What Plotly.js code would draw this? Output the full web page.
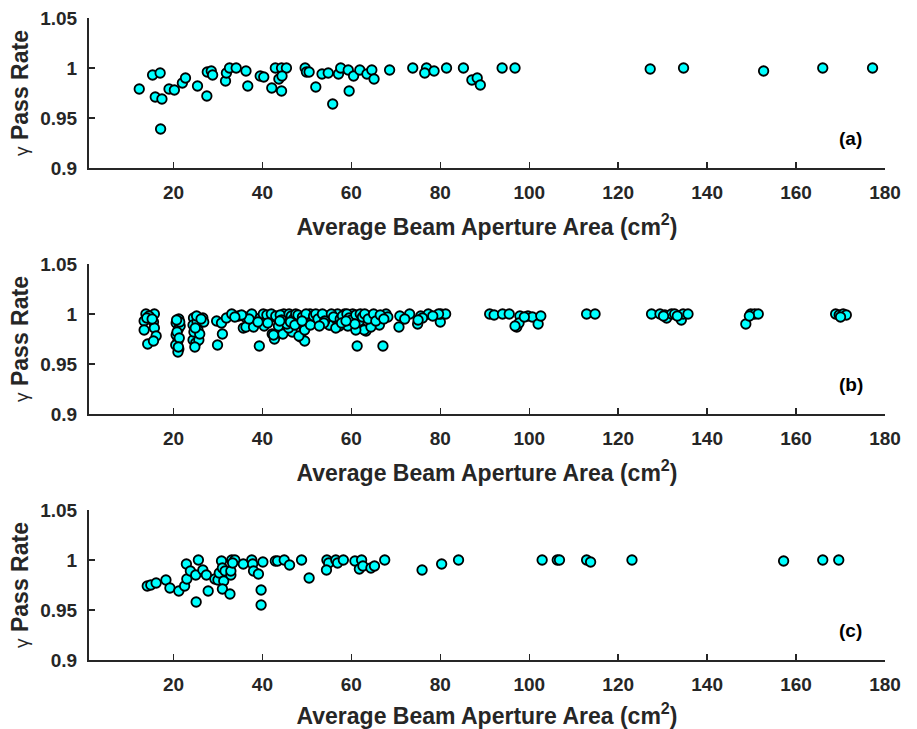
<!DOCTYPE html>
<html>
<head>
<meta charset="utf-8">
<script src="https://cdn.plot.ly/plotly-3.0.1.min.js"></script>
<style>html,body{margin:0;padding:0;background:#fff;}#chart{width:917px;height:729px;}</style>
</head>
<body>
<div id="chart"></div>
<script>
// Panel (a)
const aX = [12.3,15.3,17.0,15.9,17.4,17.1,19.0,20.2,22.0,22.7,25.4,27.5,27.6,28.5,28.8,31.7,31.9,32.6,34.1,36.3,36.7,39.5,40.3,42.1,42.9,44.3,45.4,43.7,44.4,44.3,49.6,49.9,50.5,52.0,53.4,54.8,55.8,57.1,57.6,59.3,59.5,60.5,61.9,63.5,64.6,65.1,68.6,73.8,76.9,76.5,78.6,81.4,85.2,87.1,88.3,89.0,93.9,96.8,127.2,134.7,152.7,166.0,177.2];
const aY = [0.979,0.993,0.995,0.971,0.969,0.939,0.979,0.978,0.985,0.990,0.982,0.972,0.996,0.997,0.993,0.987,0.995,1.000,1.000,0.997,0.982,0.992,0.991,0.980,1.000,1.000,1.000,0.989,0.992,0.977,1.000,0.996,0.996,0.981,0.994,0.995,0.964,0.994,1.000,0.998,0.977,0.992,0.998,0.994,0.998,0.989,0.998,1.000,1.000,0.995,0.997,1.000,1.000,0.988,0.990,0.983,1.000,1.000,0.999,1.000,0.997,1.000,1.000];

// Panel (b)
const bX = [13.8,15.7,14.5,13.4,15.5,13.4,15.7,16.1,14.2,15.5,14.0,15.2,
  21.2,20.6,21.1,20.6,21.0,21.2,20.5,21.5,20.8,21.3,21.0,21.4,20.7,21.1,
  24.5,24.4,25.3,25.5,25.1,24.4,25.0,25.7,24.8,26.6,26.8,24.6,25.9,25.2,24.9,26.2,
  29.7,29.9,31.0,30.8,31.9,33.1,34.6,35.7,36.1,36.3,37.6,38.0,37.0,35.3,33.8,
  39.3,39.5,40.2,40.4,41.6,42.2,42.7,43.3,44.6,44.8,45.7,46.7,47.8,48.6,49.5,49.4,50.7,50.8,42.5,43.6,45.2,45.9,48.2,49.5,50.8,41.0,42.0,43.0,44.0,45.0,46.0,46.5,47.0,47.5,48.0,49.0,49.8,44.3,45.5,46.3,39.0,41.2,43.9,47.3,48.9,
  53.1,55.2,54.6,56.9,57.3,58.5,60.3,61.3,61.4,62.2,63.3,64.4,65.8,66.3,67.1,67.8,68.2,55.0,56.5,59.2,61.8,62.9,61.0,64.4,51.5,52.0,52.5,53.5,54.0,55.5,56.0,57.5,58.0,59.0,59.5,60.0,61.0,62.0,62.5,63.0,63.8,65.0,65.5,66.5,67.3,57.8,60.8,58.8,53.8,52.8,
  70.9,70.7,73.1,74.9,75.6,77.3,80.0,80.1,81.2,72.0,76.0,79.6,75.0,78.3,
  91.1,92.1,94.0,95.5,97.9,97.2,97.7,99.7,100.7,102.0,102.6,98.9,96.8,
  112.9,114.8,
  127.5,129.4,130.5,130.9,132.0,132.7,134.2,134.6,135.7,130.2,133.3,
  148.7,149.8,150.7,151.5,149.5,
  168.9,169.7,170.6,171.3,170.0];
const bY = [1.000,1.000,0.998,0.993,0.992,0.984,0.986,0.978,0.970,0.973,0.996,0.995,
  0.995,0.991,0.985,0.979,0.973,0.965,0.969,0.988,0.982,0.976,0.962,0.992,0.994,0.967,
  0.996,0.989,0.992,0.984,0.977,0.974,0.971,0.974,0.967,0.996,0.992,0.982,0.980,0.998,0.986,0.995,
  0.993,0.969,0.980,0.991,0.996,1.000,0.998,0.986,0.997,0.987,1.000,0.987,0.995,0.999,0.997,
  0.968,0.996,1.000,0.988,0.996,0.980,0.975,0.996,0.980,1.000,0.997,0.982,0.996,0.977,0.973,0.985,1.000,0.991,0.979,0.988,0.996,0.986,0.978,0.984,0.989,0.999,1.000,0.998,0.999,0.993,1.000,0.998,0.995,1.000,0.999,0.997,1.000,0.994,0.990,0.992,0.992,0.991,0.993,0.989,0.993,
  0.996,0.989,0.998,1.000,0.988,1.000,1.000,0.968,0.992,0.986,0.983,0.998,0.996,0.989,0.968,1.000,0.997,0.989,0.986,0.988,0.993,0.984,0.984,0.987,0.998,1.000,0.995,1.000,0.993,1.000,0.997,0.995,0.998,1.000,0.996,0.994,0.999,1.000,0.997,1.000,0.995,1.000,0.993,0.999,0.995,0.991,0.990,0.993,0.991,0.988,
  0.998,0.987,1.000,0.990,0.998,1.000,0.992,1.000,1.000,0.995,0.996,1.000,0.994,0.998,
  1.000,0.999,1.000,1.000,0.998,0.987,0.991,0.998,0.997,0.990,0.998,0.997,0.988,
  1.000,1.000,
  1.000,1.000,0.999,0.996,1.000,1.000,0.994,1.000,1.000,0.998,0.998,
  0.990,1.000,1.000,1.000,0.998,
  1.000,0.999,1.000,0.999,0.997];

// Panel (c)
const cX = [14.1,14.9,16.1,18.3,19.2,21.2,22.5,23.0,22.9,23.8,25.1,25.6,25.0,26.6,27.4,27.8,29.3,30.0,30.3,30.8,31.0,31.6,31.3,31.0,32.7,32.9,32.9,33.1,33.8,33.3,35.7,37.6,37.8,38.0,39.1,39.7,39.7,40.1,42.9,43.4,44.9,46.1,48.8,50.5,54.5,54.9,54.4,56.5,56.9,58.2,60.8,61.8,62.3,62.6,64.4,65.2,67.5,75.9,80.3,84.1,102.9,106.3,106.8,112.9,113.8,123.1,157.2,166.0,169.6];
const cY = [0.974,0.975,0.977,0.980,0.972,0.969,0.974,0.981,0.996,0.989,0.958,1.000,0.985,0.990,0.985,0.969,0.981,0.980,0.987,0.999,0.992,0.989,0.979,0.971,0.966,0.985,0.989,1.000,1.000,0.997,0.996,1.000,0.996,0.989,0.986,0.970,0.955,0.998,0.999,0.999,1.000,0.995,1.000,0.982,1.000,0.997,0.990,1.000,0.997,1.000,0.999,0.991,1.000,0.994,0.992,0.994,1.000,0.990,0.996,1.000,1.000,1.000,1.000,1.000,0.998,1.000,0.999,1.000,1.000];

const panelLabels = ['(a)','(b)','(c)'];
const xTitle = 'Average Beam Aperture Area (cm<sup>2</sup>)';
const yTitle = '<span style="font-weight:normal;font-size:19px">γ</span> Pass Rate';

const FONT = 'Liberation Sans, Arial, Helvetica, sans-serif';
const INK = '#262626';
const series = [[aX,aY],[bX,bY],[cX,cY]];
const domains = [[0.76636,1],[0.38318,0.61682],[0,0.23364]];

const traces = series.map((s,i)=>({
  x: s[0], y: s[1], type:'scatter', mode:'markers',
  xaxis: i===0?'x':'x'+(i+1), yaxis: i===0?'y':'y'+(i+1),
  marker:{size:9.5, color:'#00FFFF', line:{color:'#000000', width:1.8}},
  hoverinfo:'skip', showlegend:false
}));

const layout = {
  width:917, height:729,
  margin:{l:89, r:32, t:18, b:69},
  paper_bgcolor:'#fff', plot_bgcolor:'#fff',
  font:{family:FONT, color:INK},
  showlegend:false,
  annotations: []
};
for (let i=0;i<3;i++){
  const xs = i===0?'xaxis':'xaxis'+(i+1);
  const ys = i===0?'yaxis':'yaxis'+(i+1);
  const yref = i===0?'y':'y'+(i+1);
  const xref = i===0?'x':'x'+(i+1);
  layout[xs] = {
    domain:[0,1], anchor: yref, range:[1,180],
    tickmode:'array', tickvals:[20,40,60,80,100,120,140,160,180],
    ticks:'inside', ticklen:6, tickwidth:1.5, tickcolor:INK,
    showline:true, linecolor:INK, linewidth:2, showgrid:false, zeroline:false,
    tickfont:{family:FONT, size:19, color:INK, weight:'bold'},
    ticklabelstandoff:6,
    title:{text:xTitle, font:{family:FONT, size:23, color:INK, weight:'bold'}, standoff:17}
  };
  layout[ys] = {
    domain:domains[i], anchor: xref, range:[0.9,1.05],
    tickmode:'array', tickvals:[0.9,0.95,1,1.05], ticktext:['0.9','0.95','1','1.05'],
    ticks:'inside', ticklen:6, tickwidth:1.5, tickcolor:INK,
    showline:true, linecolor:INK, linewidth:2, showgrid:false, zeroline:false,
    tickfont:{family:FONT, size:19, color:INK, weight:'bold'},
    ticklabelstandoff:6,
    title:{text:yTitle, font:{family:FONT, size:23, color:INK, weight:'bold'}, standoff:5}
  };
  layout.annotations.push({
    text: panelLabels[i], xref: xref, yref: yref, x:172.3, y:0.93,
    showarrow:false, xanchor:'center', yanchor:'middle',
    font:{family:FONT, size:19, color:'#000', weight:'bold'}
  });
}
Plotly.newPlot('chart', traces, layout, {displayModeBar:false, staticPlot:true});
</script>
</body>
</html>
